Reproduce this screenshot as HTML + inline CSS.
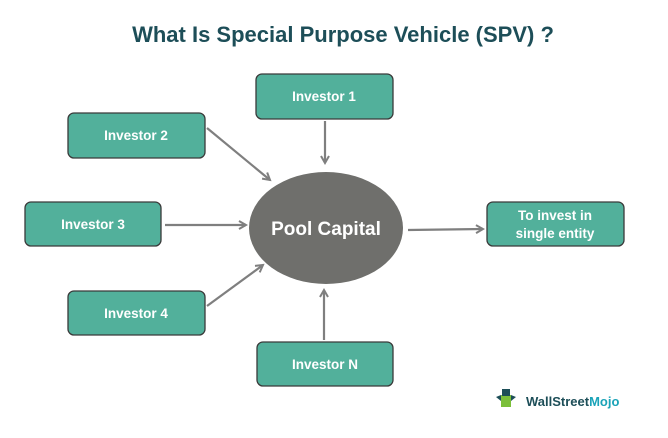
<!DOCTYPE html>
<html><head><style>
body{margin:0;background:#fff;}
</style></head><body>
<svg width="668" height="433" xmlns="http://www.w3.org/2000/svg" font-family="Liberation Sans, sans-serif">
<defs>
<marker id="a" markerWidth="10" markerHeight="10" refX="8" refY="5" orient="auto" markerUnits="userSpaceOnUse">
<path d="M1,1 L8,5 L1,9" fill="none" stroke="#7f7f7f" stroke-width="2"/>
</marker>
</defs>
<text x="343" y="42" text-anchor="middle" font-size="22" font-weight="bold" fill="#1d4e58">What Is Special Purpose Vehicle (SPV) ?</text>
<g fill="#52b09b" stroke="#3a3a3a" stroke-width="1.3">
<rect x="256" y="74" width="137" height="45" rx="6"/>
<rect x="68" y="113" width="137" height="45" rx="6"/>
<rect x="25" y="202" width="136" height="44" rx="6"/>
<rect x="68" y="291" width="137" height="44" rx="6"/>
<rect x="257" y="342" width="136" height="44" rx="6"/>
<rect x="487" y="202" width="137" height="44" rx="6"/>
</g>
<g fill="#fff" font-size="13.5" font-weight="bold" text-anchor="middle">
<text x="324" y="101">Investor 1</text>
<text x="136" y="140">Investor 2</text>
<text x="93" y="229">Investor 3</text>
<text x="136" y="318">Investor 4</text>
<text x="325" y="369">Investor N</text>
<text x="555" y="220">To invest in</text>
<text x="555" y="238">single entity</text>
</g>
<ellipse cx="326" cy="228" rx="77" ry="56" fill="#6f6f6c"/>
<text x="326" y="235" text-anchor="middle" font-size="19" font-weight="bold" fill="#fff">Pool Capital</text>
<g stroke="#7f7f7f" stroke-width="2.2" marker-end="url(#a)">
<line x1="325" y1="121" x2="325" y2="163"/>
<line x1="207" y1="128" x2="270" y2="180"/>
<line x1="165" y1="225" x2="246" y2="225"/>
<line x1="207" y1="306" x2="263" y2="265"/>
<line x1="324" y1="340" x2="324" y2="290"/>
<line x1="408" y1="230" x2="483" y2="229"/>
</g>
<g transform="translate(496,389)">
<rect x="5" y="6" width="10" height="12" fill="#7bbf3a"/>
<rect x="6" y="0" width="8" height="7" fill="#1d4e58"/>
<path d="M0,8 L5,6 L5,12 Z M20,8 L15,6 L15,12 Z" fill="#1d4e58"/>
</g>
<text x="526" y="406" font-size="13" font-weight="bold" fill="#1d4e58">WallStreet<tspan fill="#1aa3b8">Mojo</tspan></text>
</svg>
</body></html>
